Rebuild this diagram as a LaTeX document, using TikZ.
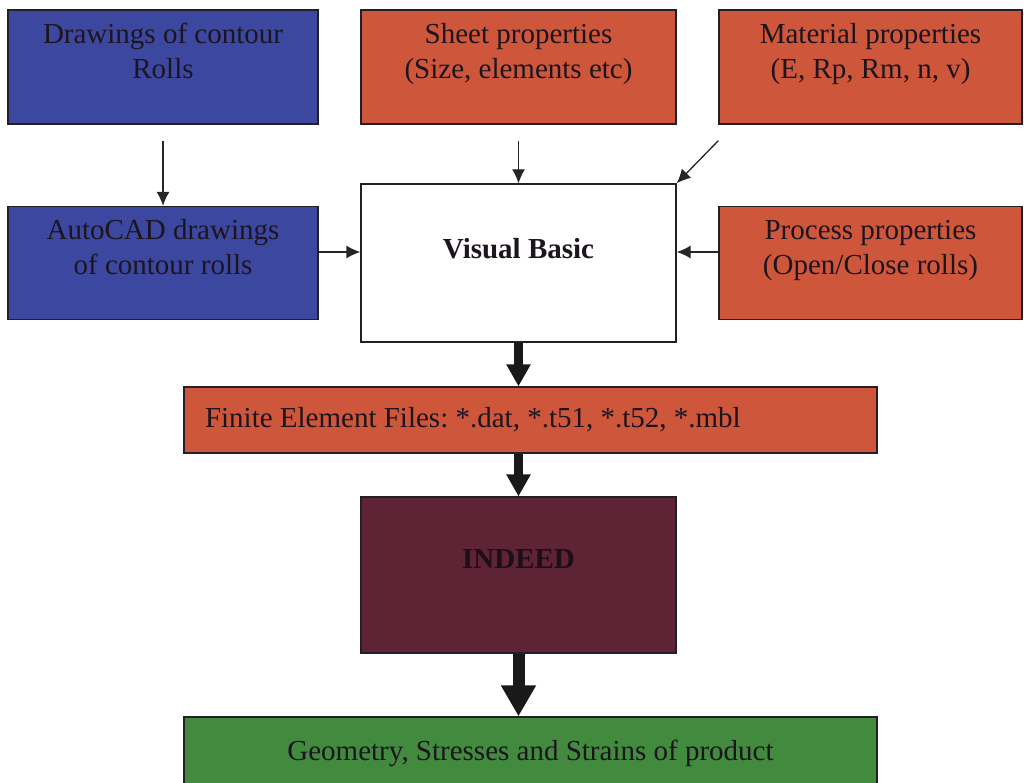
\documentclass[tikz,border=0pt]{standalone}
\usepackage{fontspec}
\setmainfont{Liberation Serif}
\usetikzlibrary{arrows.meta}
\definecolor{rollblue}{RGB}{60,72,160}
\definecolor{propred}{RGB}{206,86,58}
\definecolor{solvewine}{RGB}{94,35,52}
\definecolor{resgreen}{RGB}{66,138,62}
\definecolor{inktext}{RGB}{28,20,30}
\frenchspacing
\begin{document}
\begin{tikzpicture}[x=1pt,y=-1pt,
    box/.style={draw={rgb,255:red,35;green,30;blue,40}, line width=1.3pt, inner sep=0pt, align=center,
      font=\fontsize{29}{35}\selectfont, text=inktext},
    thin/.style={draw=black!85, line width=1.3pt, -{Latex[length=14pt,width=13pt]}},
    thick/.style={draw=black!90, line width=9pt, -{Triangle[length=22pt,width=23pt]}},
    thicker/.style={draw=black!90, line width=12pt, -{Triangle[length=31pt,width=33pt]}}]
    \useasboundingbox (0,0) rectangle (1024,783);

    %Shape: Rectangle [top row]
    \node [box, fill=rollblue, minimum width=310pt, minimum height=114pt, text depth=32pt] (drw) at (163,67) {Drawings of contour\\Rolls};
    \node [box, fill=propred, minimum width=315pt, minimum height=114pt, text depth=32pt] (sht) at (518.5,67) {Sheet properties\\(Size, elements etc)};
    \node [box, fill=propred, minimum width=303pt, minimum height=114pt, text depth=32pt] (mat) at (870.5,67) {Material properties\\(E, Rp, Rm, n, v)};

    %Shape: Rectangle [middle row]
    \node [box, fill=rollblue, minimum width=310pt, minimum height=113pt, text depth=32pt] (cad) at (163,263) {AutoCAD drawings\\of contour rolls};
    \node [box, fill=white, minimum width=315pt, minimum height=158pt, text depth=29pt, font=\fontsize{29}{35}\selectfont\bfseries] (vb) at (518.5,263) {Visual Basic};
    \node [box, fill=propred, minimum width=303pt, minimum height=113pt, text depth=32pt] (proc) at (870.5,263) {Process properties\\(Open/Close rolls)};

    %Shape: Rectangle [finite element files]
    \node [box, fill=propred, text width=651pt, inner xsep=21pt, align=flush left, minimum height=66pt] (fef) at (530.5,420) {Finite Element Files: *.dat, *.t51, *.t52, *.mbl};

    %Shape: Rectangle [solver]
    \node [box, fill=solvewine, minimum width=315pt, minimum height=156pt, text depth=31pt, text={rgb,255:red,30;green,14;blue,26}, font=\fontsize{29}{35}\selectfont\bfseries] (ind) at (518.5,575) {INDEED};

    %Shape: Rectangle [result]
    \node [box, fill=resgreen, minimum width=693pt, minimum height=72pt] (geo) at (530.5,753) {Geometry, Stresses and Strains of product};

    %Straight Lines
    \draw [thin, shorten <=16pt] (drw.south) -- (cad.north);
    \draw [thin, shorten <=16pt] (sht.south) -- (vb.north);
    \draw [thin] ([yshift=-16pt]mat.south west) -- (vb.north east);
    \draw [thin] ([yshift=11pt]cad.east) -- ([yshift=11pt]vb.west);
    \draw [thin] ([yshift=11pt]proc.west) -- ([yshift=11pt]vb.east);

    %Thick arrows
    \draw [thick] (vb.south) -- (vb.south |- fef.north);
    \draw [thick] (ind.north |- fef.south) -- (ind.north);
    \draw [thicker] (ind.south) -- (ind.south |- geo.north);

\end{tikzpicture}
\end{document}
